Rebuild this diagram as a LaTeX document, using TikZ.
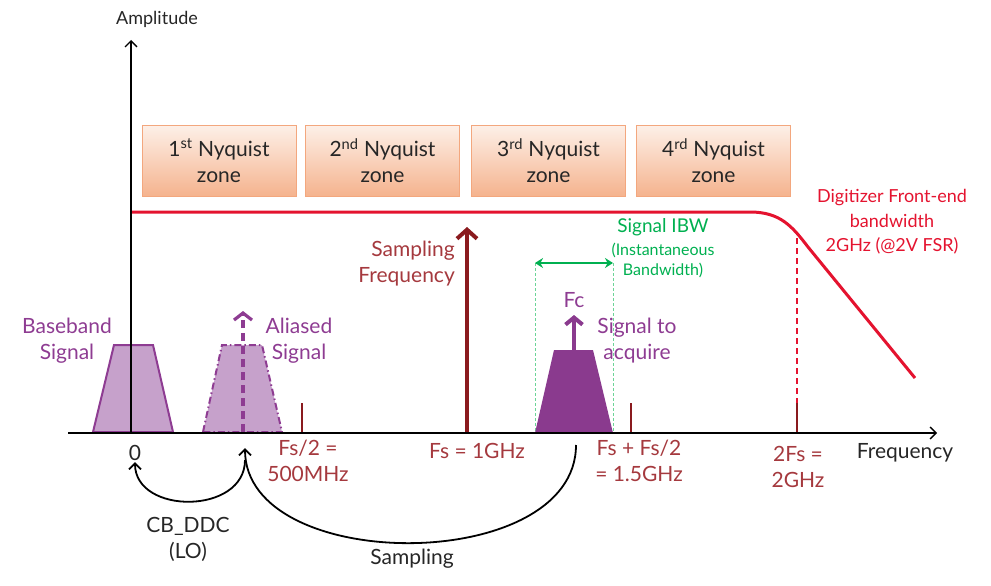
\documentclass[tikz,border=0pt]{standalone}
\usepackage{fontspec}
\setmainfont{Lato}
\usepackage{xcolor}
\usetikzlibrary{arrows.meta,positioning}
\definecolor{plum}{HTML}{8E3C92}
\definecolor{plumlight}{HTML}{C6A1CB}
\definecolor{plumdark}{HTML}{8A3A8E}
\definecolor{darkred}{HTML}{8A1A1E}
\definecolor{labred}{HTML}{A5393E}
\definecolor{crimson}{HTML}{E4132F}
\definecolor{ibwgreen}{HTML}{00B050}
\definecolor{ibwlight}{HTML}{6CD497}
\definecolor{zonetop}{HTML}{FDF0E8}
\definecolor{zonebot}{HTML}{F5B38E}
\definecolor{zoneedge}{HTML}{F3A77E}

\begin{document}
\begin{tikzpicture}[x=1pt, y=-1pt,
	every node/.style={inner sep=0pt, align=center, text=black!85, font=\fontsize{21}{26}\selectfont},
	zone/.style={draw=zoneedge, line width=0.8pt, top color=zonetop, bottom color=zonebot, minimum width=154pt, minimum height=71pt},
	axisline/.style={draw=black, line width=1.4pt, -{Straight Barb[length=6pt,width=12pt]}},
	fstick/.style={draw=darkred, line width=2.6pt},
	fslabel/.style={text=labred},
	plumlabel/.style={text=plum},
	curvy/.style={draw=black, line width=1.8pt, -{Straight Barb[length=6pt,width=12pt]}}]
	% background
	\useasboundingbox (0,0) rectangle (991,586);
	% nyquist zones
	\node[zone] (z1) at (219,160.5) {1\textsuperscript{st} Nyquist\\zone};
	\node[zone] (z2) at (382.5,160.5) {2\textsuperscript{nd} Nyquist\\zone};
	\node[zone] (z3) at (548.5,160.5) {3\textsuperscript{rd} Nyquist\\zone};
	\node[zone] (z4) at (713.5,160.5) {4\textsuperscript{rd} Nyquist\\zone};
	% front-end bandwidth
	\draw[crimson, line width=3pt] (131,212) -- (750,212) .. controls (780,212) and (792,226) .. (808,247) -- (915,378);
	\draw[crimson, line width=1.6pt, dash pattern=on 6pt off 4pt] (797,238) -- (797,403);
	\node[text=crimson, font=\fontsize{18}{24.5}\selectfont] (bw) at (892,222) {Digitizer Front-end\\bandwidth\\2GHz (@2V FSR)};
	% baseband signal
	\draw[plum, fill=plumlight, line width=2pt] (93,432) -- (114,345) -- (153,345) -- (173,432) -- cycle;
	\node[plumlabel] (bb) at (67,341) {Baseband\\Signal};
	% aliased signal
	\draw[plum, fill=plumlight, line width=2pt, dash pattern=on 7pt off 3pt on 1.5pt off 3pt] (203,432) -- (222,345) -- (262,345) -- (282,432) -- cycle;
	\coordinate (alb) at (243,432);
	\coordinate (alt) at (243,311);
	\draw[plum, line width=3.2pt, dash pattern=on 8pt off 5pt, -{Straight Barb[length=7pt,width=18pt]}] (alb) -- (alt);
	\node[plumlabel] (al) at (299,341) {Aliased\\Signal};
	% signal to acquire
	\coordinate (ibwl) at (535,263);
	\coordinate (ibwr) at (613,263);
	\draw[ibwlight, line width=1pt, dash pattern=on 3pt off 2pt] (ibwl) -- (535,433);
	\draw[ibwlight, line width=1pt, dash pattern=on 3pt off 2pt] (ibwr) -- (613,433);
	\fill[plumdark] (535,433) -- (554,350) -- (593,350) -- (613,433) -- cycle;
	\coordinate (fcb) at (574,351);
	\coordinate (fct) at (574,315);
	\draw[plumdark, line width=4pt, -{Straight Barb[length=7pt,width=17pt]}] (fcb) -- (fct);
	\node[plumlabel] (fc) at (574,300) {Fc};
	\node[plumlabel] (acq) at (637,341) {Signal to\\acquire};
	\draw[ibwgreen, line width=2.6pt, {Stealth[length=8pt,width=10pt]}-{Stealth[length=8pt,width=10pt]}] (ibwl) -- (ibwr);
	\node[text=ibwgreen, font=\fontsize{19}{22}\selectfont] (ibw) at (663,227) {Signal IBW};
	\node[text=ibwgreen, font=\fontsize{16}{20}\selectfont] (ibwnote) at (663,260) {(Instantaneous\\Bandwidth)};
	% sampling frequency
	\coordinate (fsb) at (467,433);
	\coordinate (fst) at (467,227);
	\draw[darkred, line width=4pt, -{Straight Barb[length=9pt,width=20pt]}] (fsb) -- (fst);
	\node[fslabel, anchor=east, align=right] (sf) at (455,264) {Sampling\\Frequency};
	% ticks
	\draw[fstick] (302,403) -- (302,433);
	\draw[fstick] (631,403) -- (631,433);
	\draw[fstick] (797,403) -- (797,433);
	% axes
	\coordinate (o) at (131,433);
	\coordinate (ytop) at (131,40);
	\coordinate (xl) at (68,433);
	\coordinate (xr) at (937,433);
	\draw[axisline] (o) -- (ytop);
	\draw[axisline] (xl) -- (xr);
	\node[font=\fontsize{18}{22}\selectfont] (amp) at (157,19) {Amplitude};
	\node (freq) at (905,453) {Frequency};
	% frequency labels
	\node (zero) at (135,453) {0};
	\node[fslabel] (half) at (308,461) {Fs/2 =\\500MHz};
	\node[fslabel] (fs) at (477,451) {Fs = 1GHz};
	\node[fslabel] (threehalf) at (639,461) {Fs + Fs/2\\= 1.5GHz};
	\node[fslabel] (twofs) at (798,467) {2Fs =\\2GHz};
	% down-conversion
	\coordinate (ddcs) at (245,460);
	\coordinate (ddce) at (135,462);
	\draw[curvy] (ddcs) .. controls (245,515) and (135,515) .. (ddce);
	\node (ddc) at (188,539) {CB\_DDC\\(LO)};
	\coordinate (smps) at (576,445);
	\coordinate (smpe) at (245,448);
	\draw[curvy] (smps) .. controls (576,575) and (245,575) .. (smpe);
	\node (smp) at (412,559) {Sampling};
\end{tikzpicture}
\end{document}
